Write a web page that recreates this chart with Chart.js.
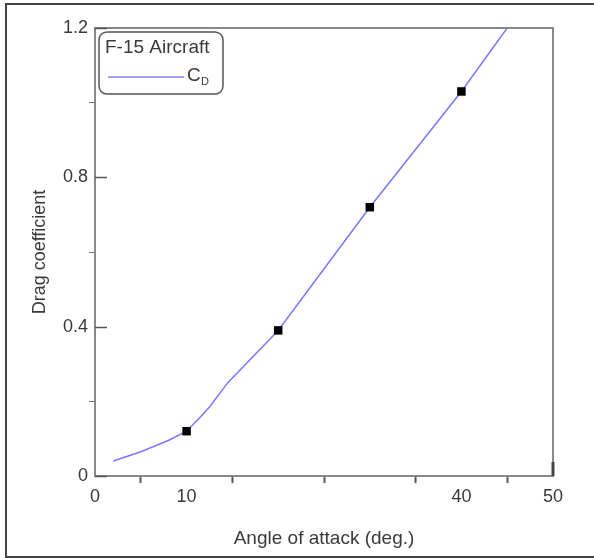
<!DOCTYPE html>
<html>
<head>
<meta charset="utf-8">
<script src="https://cdn.jsdelivr.net/npm/chart.js@4"></script>
<style>
  html, body { margin: 0; padding: 0; background: #fff; }
  #wrap { position: relative; width: 594px; height: 558px; }
  #frame {
    position: absolute; left: 5px; top: 3px; width: 600px; height: 551px;
    border-left: 2px solid #444; border-top: 2px solid #444; border-bottom: 2px solid #444;
    pointer-events: none;
  }
</style>
</head>
<body>
<div id="wrap">
  <canvas id="chart" width="594" height="558"></canvas>
  <div id="frame"></div>
</div>
<script>
// Drag curve
const curveAngle = [2, 5, 8, 10, 11.5, 12.5, 14.5, 20, 30, 40, 45];
const curveCd    = [0.04, 0.065, 0.095, 0.12, 0.158, 0.185, 0.25, 0.39, 0.72, 1.03, 1.2];

// measured points (square markers)
const pointAngle = [10, 20, 30, 40];
const pointCd    = [0.12, 0.39, 0.72, 1.03];

// tick labels that are actually printed on the x axis
const xLabels = [0, 10, 40, 50];
const yLabels = [0, 0.4, 0.8, 1.2];

const textColor = '#3a3a3a';
const axisColor = '#888';
const fontFamily = '"Liberation Sans", Arial, sans-serif';

// draw the boxes, inward y ticks and the legend
const decorPlugin = {
    id: 'decor',
    afterDraw(chart) {
        const ctx = chart.ctx;
        const a = chart.chartArea;
        const ys = chart.scales.y;
        ctx.save();

        // top and right border
        ctx.strokeStyle = axisColor;
        ctx.lineWidth = 2;
        ctx.beginPath();
        ctx.moveTo(a.left, a.top);
        ctx.lineTo(a.right, a.top);
        ctx.lineTo(a.right, a.bottom);
        ctx.stroke();
        ctx.strokeStyle = '#444';
        ctx.lineWidth = 3;
        ctx.beginPath();
        ctx.moveTo(a.right, a.bottom - 14);
        ctx.lineTo(a.right, a.bottom);
        ctx.stroke();

        // major y ticks point inward
        ctx.strokeStyle = '#555';
        ctx.lineWidth = 1.5;
        yLabels.forEach(v => {
            const py = Math.round(ys.getPixelForValue(v)) + 0.5;
            ctx.beginPath();
            ctx.moveTo(a.left, py);
            ctx.lineTo(a.left + 12, py);
            ctx.stroke();
        });

        // legend
        const lx = 99, ly = 32, lw = 124, lh = 62, r = 8;
        ctx.strokeStyle = '#555';
        ctx.lineWidth = 1.5;
        ctx.fillStyle = '#fff';
        ctx.beginPath();
        ctx.roundRect(lx, ly, lw, lh, r);
        ctx.fill();
        ctx.stroke();

        ctx.fillStyle = textColor;
        ctx.font = '19px ' + fontFamily;
        ctx.textBaseline = 'middle';
        ctx.textAlign = 'left';
        ctx.fillText('F-15 Aircraft', lx + 6, ly + 16);

        ctx.strokeStyle = '#8080ff';
        ctx.lineWidth = 1.5;
        ctx.beginPath();
        ctx.moveTo(lx + 9, ly + 45);
        ctx.lineTo(lx + 85, ly + 45);
        ctx.stroke();
        ctx.fillText('C', lx + 88, ly + 44);
        ctx.font = '11px ' + fontFamily;
        ctx.fillText('D', lx + 102, ly + 50);

        ctx.restore();
    }
};

new Chart(document.getElementById('chart'), {
    type: 'scatter',
    data: {
        datasets: [
            {
                label: 'points',
                data: pointAngle.map((x, i) => ({ x: x, y: pointCd[i] })),
                showLine: false,
                pointStyle: 'rect',
                pointRadius: 6,
                pointBorderWidth: 0,
                backgroundColor: '#000',
                borderColor: '#000'
            },
            {
                label: 'CD',
                data: curveAngle.map((x, i) => ({ x: x, y: curveCd[i] })),
                showLine: true,
                borderColor: '#7878ff',
                borderWidth: 1.5,
                pointRadius: 0,
                tension: 0
            }
        ]
    },
    options: {
        responsive: false,
        animation: false,
        layout: { padding: { left: 0, top: 28, right: 41, bottom: 0 } },
        plugins: {
            legend: { display: false },
            tooltip: { enabled: false }
        },
        scales: {
            x: {
                type: 'linear',
                min: 0,
                max: 50,
                afterFit: s => { s.height = 82; },
                afterBuildTicks: s => {
                    s.ticks = [0, 5, 10, 15, 20, 25, 30, 35, 40, 45, 50].map(v => ({ value: v }));
                },
                border: { color: axisColor, width: 2 },
                grid: {
                    drawOnChartArea: false,
                    tickLength: 7,
                    tickWidth: 2,
                    tickColor: c => (c.tick && c.tick.value % 10 === 5) ? '#555' : 'rgba(0,0,0,0)'
                },
                ticks: {
                    color: textColor,
                    font: { family: fontFamily, size: 18 },
                    padding: 3,
                    maxRotation: 0,
                    autoSkip: false,
                    callback: v => xLabels.includes(v) ? String(v) : ''
                },
                title: {
                    display: true,
                    text: 'Angle of attack (deg.)',
                    color: textColor,
                    font: { family: fontFamily, size: 19 },
                    padding: { top: 0, bottom: 8 }
                }
            },
            y: {
                min: 0,
                max: 1.2,
                afterFit: s => { s.width = 95; },
                afterBuildTicks: s => {
                    s.ticks = [0, 0.2, 0.4, 0.6, 0.8, 1.0, 1.2].map(v => ({ value: v }));
                },
                border: { color: axisColor, width: 2 },
                grid: {
                    drawOnChartArea: false,
                    tickLength: 6,
                    tickWidth: 1,
                    tickColor: c => (c.tick && Math.round(c.tick.value * 10) % 4 !== 0) ? '#777' : 'rgba(0,0,0,0)'
                },
                ticks: {
                    color: textColor,
                    font: { family: fontFamily, size: 18 },
                    padding: 1,
                    autoSkip: false,
                    callback: v => {
                        const r = Math.round(v * 10) / 10;
                        return yLabels.includes(r) ? (r === 0 ? '0' : r.toFixed(1)) : '';
                    }
                },
                title: {
                    display: true,
                    text: 'Drag coefficient',
                    color: textColor,
                    font: { family: fontFamily, size: 18 },
                    padding: { top: 29, bottom: 0 }
                }
            }
        }
    },
    plugins: [decorPlugin]
});
</script>
</body>
</html>
